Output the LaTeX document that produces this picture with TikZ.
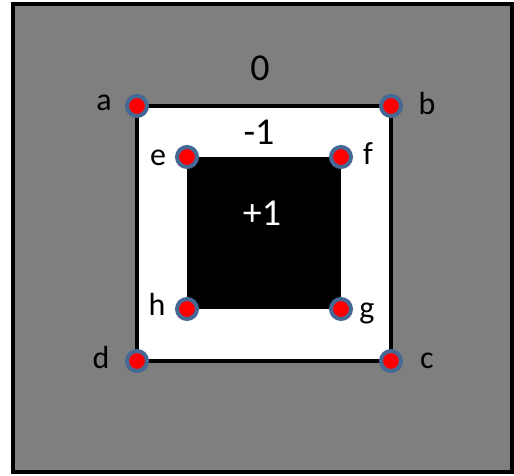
\documentclass[tikz,border=0pt]{standalone}
\usepackage{fontspec}
\setmainfont{Carlito}
\definecolor{bggray}{RGB}{127,127,127}
\definecolor{dotedge}{RGB}{70,104,148}
\begin{document}
\begin{tikzpicture}[x=1pt,y=-1pt,
  dot/.style={circle,fill=red,draw=dotedge,line width=4pt,minimum size=20pt,inner sep=0pt},
  lbl/.style={font=\fontsize{32}{34}\selectfont,inner sep=0pt,text=black},
  num/.style={font=\fontsize{38}{40}\selectfont,inner sep=0pt}]
\useasboundingbox[fill=white] (0,0) rectangle (514,475);
% outer gray field
\draw[fill=bggray,line width=4pt] (13,4) rectangle (512,472);
% corner coordinates
\coordinate (A) at (137,106);
\coordinate (B) at (391,106);
\coordinate (C) at (391,361);
\coordinate (D) at (137,361);
\coordinate (E) at (187,157);
\coordinate (F) at (341,157);
\coordinate (G) at (341,309);
\coordinate (H) at (187,309);
% white square
\draw[fill=white,line width=4pt] (A) rectangle (C);
% black square
\fill[black] (E) rectangle (G);
% dots
\foreach \p in {A,B,C,D,E,F,G,H} \node[dot] (dot\p) at (\p) {};
% labels
\node[lbl] (la) at (104,103) {a};
\node[lbl] (lb) at (427,103) {b};
\node[lbl] (lc) at (427,361) {c};
\node[lbl] (ld) at (101,357) {d};
\node[lbl] (le) at (158,158) {e};
\node[lbl] (lf) at (368,154) {f};
\node[lbl] (lg) at (367,313) {g};
\node[lbl] (lh) at (157,304) {h};
\node[num] (n0) at (260,68) {0};
\node[num] (n1) at (259,132) {-1};
\node[num,text=white] (n2) at (262,213) {+1};
\end{tikzpicture}
\end{document}
